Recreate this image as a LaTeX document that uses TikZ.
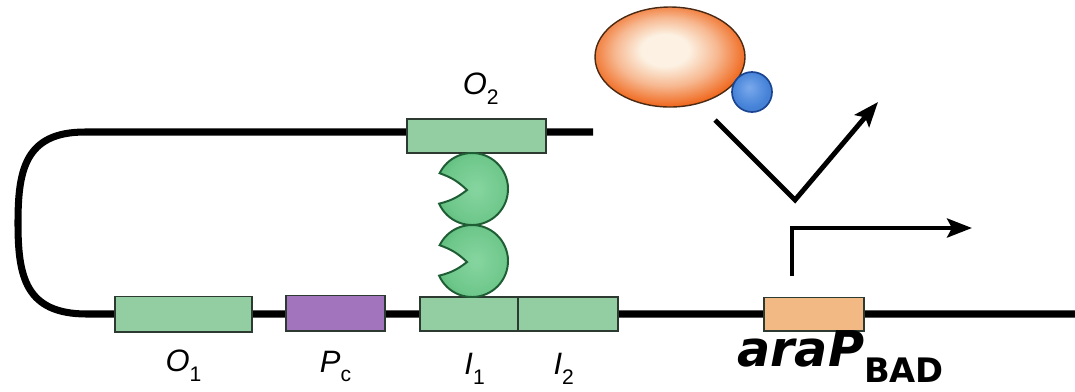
\documentclass[tikz,border=0pt]{standalone}
\usepackage{fontspec}
\usetikzlibrary{arrows.meta, positioning}
\newfontfamily\labelfont{Liberation Sans}
\newfontfamily\genefont{DejaVu Sans}

\definecolor{opgreen}{HTML}{93CEA2}
\definecolor{pcpurple}{HTML}{A274BE}
\definecolor{peach}{HTML}{F3B985}
\definecolor{boxline}{HTML}{2C3A31}
\definecolor{pacinner}{HTML}{86D5A0}
\definecolor{pacouter}{HTML}{4CB36C}
\definecolor{pacline}{HTML}{1F5E34}
\definecolor{polcore}{HTML}{FCF1E2}
\definecolor{polorange}{HTML}{EF6418}
\definecolor{polline}{HTML}{4A2A14}
\definecolor{ballblue}{HTML}{4683D8}
\definecolor{balllight}{HTML}{7AA9EC}
\definecolor{ballline}{HTML}{1B4591}

% shadings for the protein blobs
\pgfdeclareradialshading{polshade}{\pgfpoint{-2bp}{4bp}}{color(0bp)=(polcore); color(8bp)=(polcore); color(17bp)=(polorange!40!polcore); color(27bp)=(polorange); color(50bp)=(polorange!90!black)}
\pgfdeclareradialshading{pacshade}{\pgfpoint{0bp}{0bp}}{color(0bp)=(pacinner); color(20bp)=(pacinner!60!pacouter); color(35bp)=(pacouter); color(50bp)=(pacouter)}
\pgfdeclareradialshading{ballshade}{\pgfpoint{-4bp}{6bp}}{color(0bp)=(balllight); color(22bp)=(ballblue); color(50bp)=(ballblue!85!black)}

% site label: italic letter with a lowered index
\newcommand{\site}[2]{{\itshape #1}\raisebox{-7pt}{\fontsize{15}{15}\selectfont #2}}

\tikzset{
  dna/.style={line width=5pt, black},
  site/.style={draw=boxline, line width=1.4pt, inner sep=0pt, outer sep=0pt, minimum height=0.875cm},
  sitelbl/.style={font=\fontsize{22}{24}\labelfont, inner sep=0pt},
  flow/.style={line width=3.5pt, black},
  repressor/.pic={
    \shadedraw[shading=pacshade, draw=pacline, line width=1.4pt]
      (0,0) ++(156:36) arc[start angle=156, end angle=-154, radius=36]
      to[bend left=12] (-5,1) to[bend left=12] cycle;
  }
}

\begin{document}
\begin{tikzpicture}[x=0.025cm, y=-0.025cm, >={Stealth[length=0.62cm, width=0.47cm, inset=0.12cm]}]

\useasboundingbox (0,0) rectangle (1075,391);

% DNA backbone with the loop
\coordinate (topend) at (593,132);
\coordinate (looptop) at (85,132);
\coordinate (loopbot) at (87,314);
\coordinate (dnaend) at (1075,314);
\draw[dna] (topend) -- (looptop)
  .. controls (25,132) and (18,170) .. (18,223)
  .. controls (18,276) and (25,314) .. (loopbot) -- (dnaend);

% Operator, promoter and initiator sites
\node[site, fill=opgreen, minimum width=3.425cm] (O1) at (183.5,314) {};
\node[site, fill=pcpurple, minimum width=2.475cm] (Pc) at (335.5,313) {};
\node[site, fill=opgreen, minimum width=2.45cm, minimum height=0.85cm] (I1) at (469,314) {};
\node[site, fill=opgreen, minimum width=2.5cm, minimum height=0.85cm, right=0pt of I1] (I2) {};
\node[site, fill=opgreen, minimum width=3.475cm, minimum height=0.85cm] (O2) at (476.5,136) {};
\node[site, fill=peach, minimum width=2.5cm, minimum height=0.825cm] (PBAD) at (814,314) {};

\node[sitelbl, below=0.45cm of O1] (O1lbl) {\site{O}{1}};
\node[sitelbl, below=0.5cm of Pc] (Pclbl) {\site{P}{c}};
\node[sitelbl, below=0.55cm of I1, xshift=4pt] (I1lbl) {\site{I}{1}};
\node[sitelbl, below=0.55cm of I2, xshift=-3pt] (I2lbl) {\site{I}{2}};
\node[sitelbl, above=0.36cm of O2, xshift=3pt] (O2lbl) {\site{O}{2}};

\node[anchor=base west, inner sep=0pt, font=\fontsize{35}{40}\genefont\bfseries] (PBADlbl) at (737,366)
  {{\itshape araP}\raisebox{-11.5pt}{\fontsize{24}{24}\selectfont BAD}};

% AraC dimer looping O2 to I1
\pic at (472,261) {repressor};
\pic at (472,189) {repressor};

% RNA polymerase with bound arabinose
\shadedraw[shading=polshade, draw=polline, line width=1pt] (670,57) ellipse [x radius=75, y radius=50];
\shadedraw[shading=ballshade, draw=ballline, line width=1.2pt] (752,92) circle [radius=20];

% Blocked and active transcription
\coordinate (vstart) at (715,120);
\coordinate (vbend) at (795,200);
\coordinate (vtip) at (878,102);
\draw[flow, ->] (vstart) -- (vbend) -- (vtip);

\coordinate (tss) at (792,276);
\coordinate (tsscorner) at (792,228);
\coordinate (tssend) at (972,228);
\draw[flow, ->] (tss) -- (tsscorner) -- (tssend);

\end{tikzpicture}
\end{document}
